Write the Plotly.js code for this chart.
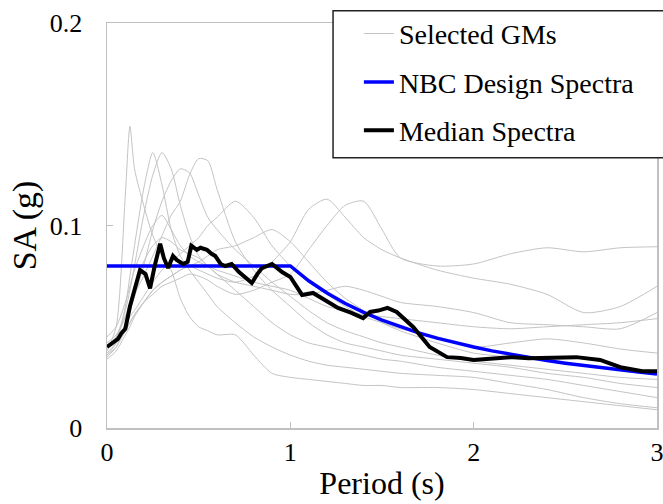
<!DOCTYPE html>
<html>
<head>
<meta charset="utf-8">
<script src="https://cdn.plot.ly/plotly-3.0.1.min.js"></script>
<style>html,body{margin:0;padding:0;background:#fff;}#chart{width:663px;height:504px;}</style>
</head>
<body>
<div id="chart"></div>
<script>
// Periods (s) shared by the selected ground motions
const gmPeriods = [0, 0.05, 0.1, 0.125, 0.15, 0.2, 0.25, 0.3, 0.35, 0.4, 0.45, 0.5, 0.55, 0.6, 0.7, 0.8, 0.9, 1.0, 1.1, 1.2, 1.3, 1.4, 1.5, 1.6, 1.8, 2.0, 2.2, 2.4, 2.6, 2.8, 3.0];

// Selected ground motion spectra SA (g)
const gm1  = [0.038,0.050,0.115,0.149,0.128,0.110,0.095,0.085,0.078,0.064,0.055,0.050,0.048,0.046,0.046,0.036,0.027,0.025,0.024,0.023,0.022,0.021,0.021,0.020,0.020,0.019,0.017,0.015,0.013,0.011,0.009];
const gm2  = [0.036,0.042,0.060,0.075,0.090,0.118,0.136,0.120,0.098,0.085,0.078,0.072,0.066,0.060,0.052,0.045,0.040,0.036,0.033,0.031,0.030,0.029,0.028,0.027,0.026,0.025,0.022,0.019,0.015,0.012,0.010];
const gm3  = [0.040,0.045,0.058,0.068,0.080,0.105,0.125,0.136,0.128,0.110,0.095,0.085,0.080,0.076,0.068,0.060,0.052,0.046,0.042,0.040,0.038,0.036,0.034,0.033,0.030,0.028,0.026,0.024,0.021,0.018,0.015];
const gm4  = [0.042,0.046,0.055,0.060,0.066,0.075,0.085,0.095,0.105,0.112,0.125,0.133,0.132,0.118,0.092,0.078,0.068,0.060,0.052,0.046,0.042,0.040,0.038,0.036,0.034,0.032,0.030,0.027,0.025,0.022,0.020];
const gm5  = [0.035,0.040,0.052,0.058,0.065,0.080,0.098,0.112,0.122,0.128,0.126,0.115,0.104,0.098,0.088,0.080,0.072,0.065,0.058,0.052,0.048,0.045,0.042,0.040,0.036,0.033,0.031,0.029,0.027,0.025,0.024];
const gm6  = [0.040,0.044,0.050,0.055,0.058,0.065,0.072,0.078,0.082,0.086,0.090,0.094,0.100,0.104,0.112,0.104,0.090,0.080,0.072,0.066,0.060,0.055,0.052,0.049,0.045,0.040,0.042,0.044,0.042,0.039,0.037];
const gm7  = [0.037,0.042,0.048,0.052,0.056,0.062,0.068,0.072,0.075,0.078,0.080,0.082,0.085,0.088,0.090,0.094,0.098,0.092,0.082,0.072,0.064,0.058,0.052,0.048,0.042,0.037,0.035,0.033,0.031,0.029,0.028];
const gm8  = [0.034,0.038,0.046,0.050,0.055,0.062,0.068,0.072,0.075,0.078,0.080,0.078,0.076,0.074,0.072,0.075,0.082,0.092,0.108,0.113,0.104,0.094,0.088,0.084,0.078,0.074,0.071,0.066,0.057,0.060,0.070];
const gm9  = [0.036,0.040,0.048,0.052,0.056,0.062,0.066,0.070,0.072,0.074,0.076,0.075,0.073,0.070,0.066,0.068,0.072,0.076,0.088,0.100,0.110,0.112,0.098,0.084,0.080,0.081,0.086,0.089,0.087,0.089,0.0895];
const gm10 = [0.040,0.045,0.055,0.062,0.070,0.082,0.090,0.094,0.092,0.088,0.086,0.084,0.080,0.076,0.072,0.070,0.068,0.066,0.066,0.068,0.070,0.068,0.065,0.062,0.060,0.057,0.052,0.051,0.050,0.049,0.057];
const gm11 = [0.045,0.050,0.062,0.070,0.078,0.090,0.100,0.105,0.098,0.090,0.085,0.082,0.080,0.078,0.075,0.072,0.070,0.068,0.064,0.060,0.058,0.056,0.055,0.054,0.052,0.050,0.049,0.050,0.051,0.052,0.054];
const gmSets = [gm1, gm2, gm3, gm4, gm5, gm6, gm7, gm8, gm9, gm10, gm11];

// NBC design spectrum
const nbcPeriods = [0, 1.0, 1.1, 1.2, 1.3, 1.4, 1.5, 1.6, 1.7, 1.8, 1.9, 2.0, 2.1, 2.2, 2.3, 2.4, 2.5, 2.6, 2.7, 2.8, 2.9, 3.0];
const nbcSA = [0.080, 0.080, 0.0727, 0.0667, 0.0615, 0.0571, 0.0533, 0.050, 0.047, 0.0444, 0.0421, 0.040, 0.0381, 0.0364, 0.0348, 0.0333, 0.032, 0.0308, 0.0296, 0.0286, 0.0276, 0.0267];

// Median spectrum
const medPeriods = [0, 0.03, 0.06, 0.08, 0.1, 0.125, 0.15, 0.18, 0.21, 0.235, 0.26, 0.29, 0.31, 0.333, 0.36, 0.38, 0.415, 0.44, 0.46, 0.49, 0.51, 0.545, 0.57, 0.59, 0.62, 0.645, 0.68, 0.72, 0.76, 0.79, 0.82, 0.845, 0.9, 0.955, 1.0, 1.064, 1.124, 1.19, 1.26, 1.33, 1.397, 1.435, 1.48, 1.53, 1.58, 1.67, 1.76, 1.855, 1.93, 2.0, 2.05, 2.106, 2.215, 2.3, 2.38, 2.47, 2.56, 2.69, 2.8, 2.92, 3.0];
const medSA = [0.040, 0.042, 0.044, 0.047, 0.049, 0.060, 0.068, 0.078, 0.076, 0.069, 0.080, 0.091, 0.084, 0.079, 0.085, 0.083, 0.081, 0.082, 0.090, 0.088, 0.089, 0.088, 0.086, 0.085, 0.081, 0.080, 0.081, 0.077, 0.074, 0.0716, 0.076, 0.079, 0.081, 0.077, 0.0746, 0.0657, 0.0667, 0.063, 0.0593, 0.057, 0.0543, 0.0573, 0.058, 0.0593, 0.0573, 0.0499, 0.040, 0.035, 0.0346, 0.0336, 0.034, 0.0346, 0.035, 0.0345, 0.0346, 0.0348, 0.035, 0.0336, 0.030, 0.028, 0.028];

const xTicks = [0, 1, 2, 3];
const xTickText = ['0', '1', '2', '3'];
const yTicks = [0, 0.1, 0.2];
const yTickText = ['0', '0.1', '0.2'];

const serif = 'Liberation Serif, Times New Roman, serif';
const traces = [];
gmSets.forEach((s, i) => {
  traces.push({
    x: gmPeriods, y: s, type: 'scatter', mode: 'lines',
    line: {color: '#c4c4c4', width: 1, shape: 'spline', smoothing: 0.7},
    name: 'Selected GMs', legendgroup: 'gm', showlegend: i === 0, hoverinfo: 'skip'
  });
});
traces.push({
  x: nbcPeriods, y: nbcSA, type: 'scatter', mode: 'lines',
  line: {color: '#0000ff', width: 3.5},
  name: 'NBC Design Spectra', legendgroup: 'nbc'
});
traces.push({
  x: medPeriods, y: medSA, type: 'scatter', mode: 'lines',
  line: {color: '#000000', width: 4},
  name: 'Median Spectra', legendgroup: 'med'
});

const layout = {
  width: 663, height: 504,
  margin: {l: 107, r: 6, t: 23, b: 76},
  paper_bgcolor: '#fff', plot_bgcolor: '#fff',
  font: {family: serif, color: '#000', size: 26},
  showlegend: true,
  shapes: [{
    type: 'rect', xref: 'paper', yref: 'paper', layer: 'above',
    x0: 0.411, x1: 1.03, y0: 0.667, y1: 1.03,
    line: {color: '#222', width: 1.5}, fillcolor: '#fff'
  }],
  legend: {
    x: 0.458, y: 1.035, xanchor: 'left', yanchor: 'top',
    bgcolor: 'rgba(0,0,0,0)', borderwidth: 0,
    font: {family: serif, size: 28, color: '#000'},
    traceorder: 'grouped', tracegroupgap: 9,
    itemwidth: 30
  },
  xaxis: {
    range: [0, 3], tickvals: xTicks, ticktext: xTickText,
    showgrid: false, zeroline: false,
    showline: true, linecolor: '#c0c0c0', linewidth: 1.5, mirror: true,
    ticks: 'inside', ticklen: 6, tickcolor: '#c0c0c0', tickwidth: 1,
    tickfont: {family: serif, size: 26, color: '#000'},
    ticklabelstandoff: 0, ticklabeloverflow: 'allow',
    title: {text: 'Period (s)', font: {family: serif, size: 32, color: '#000'}, standoff: 6}
  },
  yaxis: {
    range: [0, 0.2], tickvals: yTicks, ticktext: yTickText,
    showgrid: false, zeroline: false,
    showline: true, linecolor: '#c0c0c0', linewidth: 1.5, mirror: true,
    ticks: 'inside', ticklen: 6, tickcolor: '#c0c0c0', tickwidth: 1,
    tickfont: {family: serif, size: 26, color: '#000'},
    ticklabelstandoff: 18, ticklabeloverflow: 'allow',
    title: {text: 'SA (g)', font: {family: serif, size: 34, color: '#000'}, standoff: 3}
  }
};

Plotly.newPlot('chart', traces, layout, {displayModeBar: false, staticPlot: true});
</script>
</body>
</html>
